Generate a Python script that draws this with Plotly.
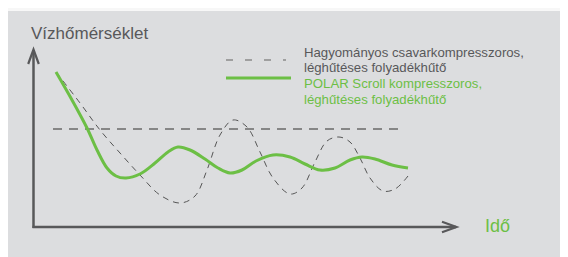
import plotly.graph_objects as go

# ---- data (time units, temperature units) ----
polar_t = [2.3, 3.9, 5.4, 6.4, 7.4, 8.3, 9.3, 10.7, 12.2, 13.5, 14.5, 15.7, 17.2, 18.5, 19.7,
           20.9, 22.3, 24.0, 25.7, 27.2, 28.7, 30.2, 31.7, 32.9, 34.2, 35.9, 37.5]
polar_temp = [15.5, 12.7, 9.9, 7.7, 5.9, 5.1, 4.9, 5.3, 6.4, 7.5, 8.0, 7.7, 6.8, 5.9, 5.4,
              5.7, 6.6, 7.2, 7.0, 6.3, 5.7, 5.9, 6.7, 7.0, 6.8, 6.2, 5.9]

trad_t = [2.3, 4.7, 6.7, 8.7, 10.7, 12.7, 14.7, 16.2, 17.4, 18.7, 20.0, 21.4, 22.7, 24.0,
          25.7, 26.9, 28.2, 29.4, 30.6, 31.7, 32.7, 33.7, 35.0, 36.2, 37.5]
trad_temp = [15.5, 12.4, 9.7, 7.4, 5.2, 3.2, 2.4, 3.1, 5.7, 9.2, 10.7, 10.0, 7.5, 4.9,
             3.3, 3.9, 6.5, 8.6, 9.0, 8.5, 6.9, 4.9, 3.6, 3.8, 5.1]

setpoint_t = [2.0, 36.7]
setpoint_temp = [9.8, 9.8]

y_title = "Vízhőmérséklet"
x_title = "Idő"
legend_trad = ["Hagyományos csavarkompresszoros,", "léghűtéses folyadékhűtő"]
legend_polar = ["POLAR Scroll kompresszoros,", "léghűtéses folyadékhűtő"]

GREEN = "#6cbf45"
GRAY = "#58585a"
BG = "#dcdddf"
FONT = "Liberation Sans, Arial, sans-serif"

OFF = 8  # page body margin
W, H = 568 - OFF, 257
L, R, T, B = 33 - OFF, 111, 49 - OFF, 30 + OFF
PW, PH = W - L - R, H - T - B


def px(x):
    return (x - OFF - L) / PW


def py(y):
    return (H + OFF - B - y) / PH


fig = go.Figure()
fig.add_trace(go.Scatter(x=setpoint_t, y=setpoint_temp, mode="lines",
                         line=dict(color="#6a6a6a", width=1.6, dash="9px,7px"),
                         hoverinfo="skip", showlegend=False))
fig.add_trace(go.Scatter(x=trad_t, y=trad_temp, mode="lines",
                         line=dict(color="#555555", width=1, dash="6px,5px", shape="spline", smoothing=1),
                         hoverinfo="skip", showlegend=False))
fig.add_trace(go.Scatter(x=polar_t, y=polar_temp, mode="lines",
                         line=dict(color=GREEN, width=3, shape="spline", smoothing=1),
                         hoverinfo="skip", showlegend=False))

shapes = [
    # light strip at top of the panel
    dict(type="rect", xref="paper", yref="paper", x0=px(0), x1=px(570), y0=py(11), y1=py(0),
         fillcolor="#f7f7f7", line=dict(width=0), layer="below"),
    # axes
    dict(type="line", xref="paper", yref="paper", x0=px(33.5), x1=px(33.5), y0=py(228), y1=py(50),
         line=dict(color=GRAY, width=2.5)),
    dict(type="line", xref="paper", yref="paper", x0=px(32.5), x1=px(456), y0=py(227), y1=py(227),
         line=dict(color=GRAY, width=2.5)),
    dict(type="path", xref="paper", yref="paper",
         path=f"M {px(28.2)},{py(64)} L {px(33.5)},{py(49.5)} L {px(38.8)},{py(64)}",
         line=dict(color=GRAY, width=2.2)),
    dict(type="path", xref="paper", yref="paper",
         path=f"M {px(442)},{py(221.7)} L {px(456.5)},{py(227)} L {px(442)},{py(232.3)}",
         line=dict(color=GRAY, width=2.2)),
    # legend samples
    dict(type="line", xref="paper", yref="paper", x0=px(226), x1=px(286), y0=py(60), y1=py(60),
         line=dict(color="#8a8a8a", width=1.5, dash="7px,12px")),
    dict(type="line", xref="paper", yref="paper", x0=px(226), x1=px(291), y0=py(78), y1=py(78),
         line=dict(color=GREEN, width=3)),
]

annotations = [
    dict(text=y_title, x=px(29), y=py(33), xref="paper", yref="paper", xanchor="left", yanchor="middle",
         showarrow=False, font=dict(family=FONT, size=17, color=GRAY)),
    dict(text=x_title, x=px(483), y=py(226), xref="paper", yref="paper", xanchor="left", yanchor="middle",
         showarrow=False, font=dict(family=FONT, size=18, color=GREEN)),
]
for i, line in enumerate(legend_trad):
    annotations.append(dict(text=line, x=px(302), y=py(52 + 15.7 * i), xref="paper", yref="paper",
                            xanchor="left", yanchor="middle", showarrow=False,
                            font=dict(family=FONT, size=13.2, color=GRAY)))
for i, line in enumerate(legend_polar):
    annotations.append(dict(text=line, x=px(302), y=py(83.5 + 15.7 * i), xref="paper", yref="paper",
                            xanchor="left", yanchor="middle", showarrow=False,
                            font=dict(family=FONT, size=13.2, color=GREEN)))

fig.update_layout(
    width=W, height=H,
    margin=dict(l=L, r=R, t=T, b=B, pad=0),
    paper_bgcolor=BG, plot_bgcolor="rgba(0,0,0,0)",
    xaxis=dict(range=[0, PW / 10], visible=False, fixedrange=True),
    yaxis=dict(range=[0, PH / 10], visible=False, fixedrange=True),
    shapes=shapes, annotations=annotations, showlegend=False,
)

fig.write_html("out.html", config={"displayModeBar": False})
